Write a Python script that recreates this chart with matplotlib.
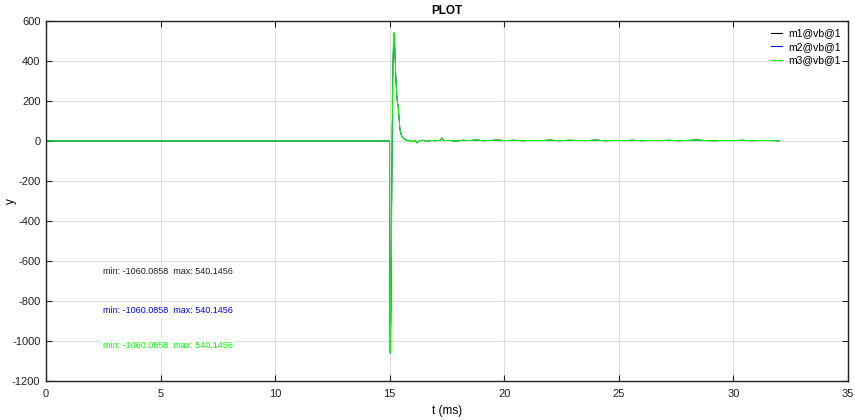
import matplotlib
matplotlib.use("Agg")
import matplotlib.pyplot as plt

plt.rcParams['font.family'] = ['Liberation Sans', 'DejaVu Sans']
plt.rcParams['axes.unicode_minus'] = False

# Sampled waveform (time in ms, amplitude)
t_ms = [0.0, 5.0, 10.0, 14.99, 15.02, 15.05, 15.08, 15.11, 15.14, 15.17, 15.19,
        15.22, 15.26, 15.30, 15.34, 15.37, 15.41, 15.45, 15.50, 15.58, 15.66,
        15.74, 15.80, 15.90, 16.00, 16.10, 16.20, 16.30, 16.45, 16.60, 16.80,
        17.00, 17.20, 17.28, 17.36, 17.60, 17.90, 18.20, 18.50, 18.80, 19.10,
        19.40, 19.70, 20.00, 20.40, 20.80, 21.20, 21.60, 22.00, 22.40, 22.80,
        23.20, 23.60, 24.00, 24.40, 24.80, 25.20, 25.60, 26.00, 26.40, 26.80,
        27.20, 27.60, 28.00, 28.40, 28.80, 29.20, 29.60, 30.00, 30.40, 30.80,
        31.20, 31.60, 32.00]
y_vals = [0.0, 0.0, 0.0, 0.0, -1060.0858, -895.0, -420.0, 60.0, 380.0, 520.0, 540.1456,
          470.0, 340.0, 240.0, 190.0, 175.0, 110.0, 55.0, 32.0, 15.0, 8.0,
          4.0, 1.0, 2.0, -3.0, 3.0, -10.0, 2.0, 4.0, -2.0, 3.0,
          1.0, 4.0, 15.0, 2.0, 3.0, -1.0, 4.0, 2.0, 6.0, 1.0,
          3.0, 5.0, 2.0, 4.0, 1.0, 3.0, 2.0, 5.0, 1.0, 4.0,
          3.0, 2.0, 5.0, 1.0, 3.0, 2.0, 4.0, 1.0, 3.0, 2.0,
          4.0, 1.0, 3.0, 5.0, 2.0, 1.0, 3.0, 2.0, 4.0, 1.0,
          3.0, 2.0, 1.0]

series_names = ["m1@vb@1", "m2@vb@1", "m3@vb@1"]
series_colors = ["#000000", "#0000ff", "#00ff00"]
series_widths = [0.5, 0.5, 0.8]
y_min = -1060.0858
y_max = 540.1456

fig = plt.figure(figsize=(8.55, 4.2), dpi=100)
ax = fig.add_axes([0.0538, 0.0929, 0.9380, 0.8571])

for name, col, lw in zip(series_names, series_colors, series_widths):
    ax.plot(t_ms, y_vals, color=col, lw=lw, label=name)

ax.set_xlim(0, 35)
ax.set_ylim(-1200, 600)
ax.set_xticks(range(0, 36, 5))
ax.set_yticks(range(-1200, 601, 200))
ax.grid(True, color="#dedede", lw=0.8)
ax.set_axisbelow(True)
ax.tick_params(direction="in", length=4, width=0.8, top=True, right=True,
               labelsize=8, colors="#222222")
ax.tick_params(axis="x", pad=6)
ax.tick_params(axis="y", pad=4)
for sp in ax.spines.values():
    sp.set_color("#222222")
    sp.set_linewidth(1.0)

ax.set_title("PLOT", fontsize=8.5, fontweight="bold", pad=5)
ax.set_xlabel("t (ms)", fontsize=8.5, labelpad=4)
ax.set_ylabel("y", fontsize=8.5)
ax.yaxis.set_label_coords(-0.036, 0.5)

label_y = [-655, -850, -1025]
text_colors = ["#222222", "#0000ff", "#00ff00"]
for yy, col in zip(label_y, text_colors):
    ax.text(2.5, yy, f"min: {y_min:.4f}  max: {y_max:.4f}", fontsize=6.5, color=col,
            va="center", ha="left",
            bbox=dict(facecolor="white", edgecolor="none", pad=1.5))

leg = ax.legend(loc="upper right", frameon=False, fontsize=7.5, handlelength=1.0,
                labelspacing=0.35, borderaxespad=0.3, handletextpad=0.6)
for line in leg.get_lines():
    line.set_linewidth(0.8)

fig.savefig("out.png", dpi=100)
